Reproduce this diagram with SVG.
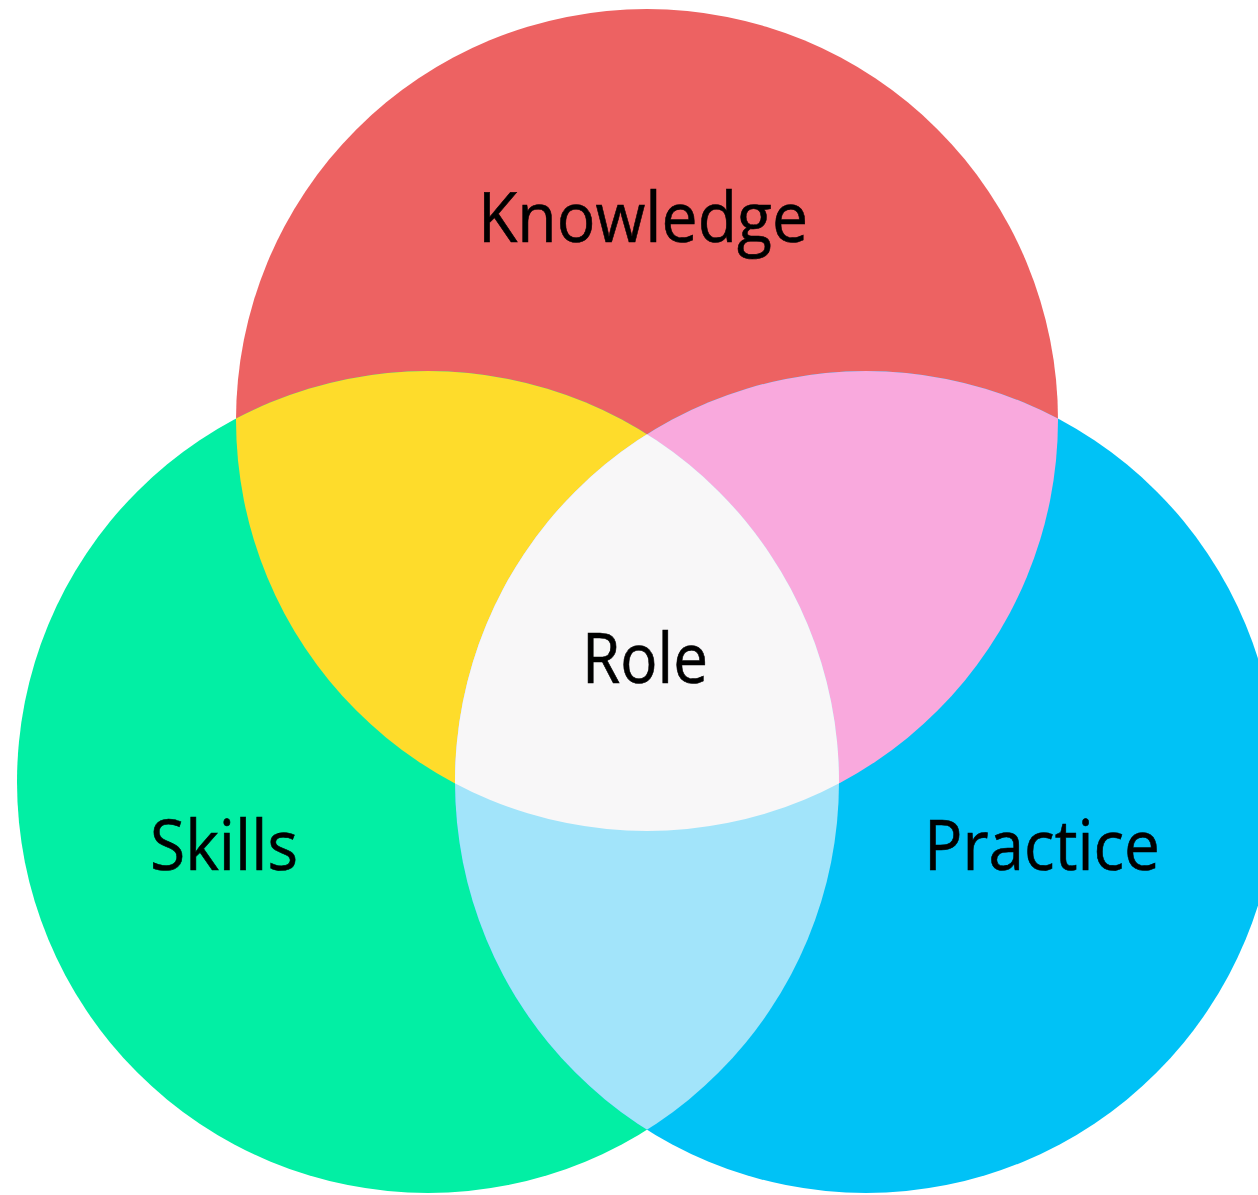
<svg xmlns="http://www.w3.org/2000/svg" width="1258" height="1195" viewBox="0 0 1258 1195">
<style>
.lbl{font-family:"Open Sans","Liberation Sans",sans-serif;font-size:69px;fill:#000;text-anchor:middle;stroke:#000;stroke-width:0.6}
</style>
<defs>
<clipPath id="cK"><circle cx="647" cy="420" r="411"/></clipPath>
<clipPath id="cS"><circle cx="428" cy="782" r="411"/></clipPath>
<clipPath id="cP"><circle cx="866" cy="782" r="411"/></clipPath>
</defs>
<rect width="1258" height="1195" fill="#fff"/>
<g id="knowledge"><circle cx="647" cy="420" r="411" fill="#ed6262"/></g>
<g id="skills"><circle cx="428" cy="782" r="411" fill="#02efa4"/></g>
<g id="practice"><circle cx="866" cy="782" r="411" fill="#00c2f6"/></g>
<g id="overlaps">
<g clip-path="url(#cK)"><circle cx="428" cy="782" r="411" fill="#fedc2b"/></g>
<g clip-path="url(#cK)"><circle cx="866" cy="782" r="411" fill="#f9a9dd"/></g>
<g clip-path="url(#cS)"><circle cx="866" cy="782" r="411" fill="#a2e4fa"/></g>
<g clip-path="url(#cK)"><g clip-path="url(#cS)"><circle cx="866" cy="782" r="411" fill="#f8f7f8"/></g></g>
</g>
<g id="labels">
<text class="lbl" x="643" y="242" textLength="330" lengthAdjust="spacingAndGlyphs">Knowledge</text>
<text class="lbl" x="645" y="683" textLength="126" lengthAdjust="spacingAndGlyphs">Role</text>
<text class="lbl" x="224" y="870" textLength="148" lengthAdjust="spacingAndGlyphs">Skills</text>
<text class="lbl" x="1042" y="870" textLength="236" lengthAdjust="spacingAndGlyphs">Practice</text>
</g>
</svg>
